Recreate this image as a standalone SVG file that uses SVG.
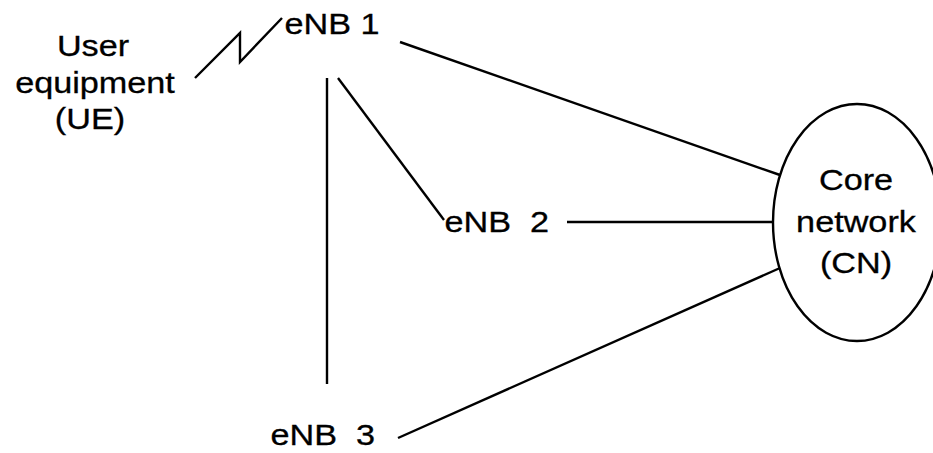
<svg xmlns="http://www.w3.org/2000/svg" width="933" height="453" viewBox="0 0 933 453">
<style>
.t{font-family:"Liberation Sans",Arial,sans-serif;font-size:29px;fill:#000;stroke:#000;stroke-width:0.3}
.m{text-anchor:middle}
.c{fill:none;stroke:#000;stroke-width:2.4}
</style>
<rect width="933" height="453" fill="#fff"/>
<g id="connectors">
<polyline class="c" points="195,78 240,33 240,62 282,18"/>
<line class="c" x1="400" y1="42" x2="780" y2="175"/>
<line class="c" x1="327" y1="78" x2="327" y2="384"/>
<line class="c" x1="338" y1="78" x2="444" y2="220"/>
<line class="c" x1="567" y1="222" x2="773" y2="222"/>
<line class="c" x1="398" y1="438" x2="780" y2="268"/>
</g>
<g id="ue">
<text class="t m" transform="translate(93,56) scale(1.18,1)">User</text>
<text class="t m" transform="translate(95,93) scale(1.18,1)">equipment</text>
<text class="t m" transform="translate(90,129) scale(1.18,1)">(UE)</text>
</g>
<g id="enb1">
<text class="t" transform="translate(284.5,33.5) scale(1.18,1)">eNB 1</text>
</g>
<g id="enb2">
<text class="t" xml:space="preserve" transform="translate(444.5,232) scale(1.18,1)">eNB  2</text>
</g>
<g id="enb3">
<text class="t" xml:space="preserve" transform="translate(270.5,445) scale(1.18,1)">eNB  3</text>
</g>
<g id="cn">
<ellipse class="c" cx="857" cy="222.5" rx="84" ry="118.5"/>
<text class="t m" transform="translate(856,190) scale(1.18,1)">Core</text>
<text class="t m" transform="translate(856,232) scale(1.18,1)">network</text>
<text class="t m" transform="translate(856,273) scale(1.18,1)">(CN)</text>
</g>
</svg>
